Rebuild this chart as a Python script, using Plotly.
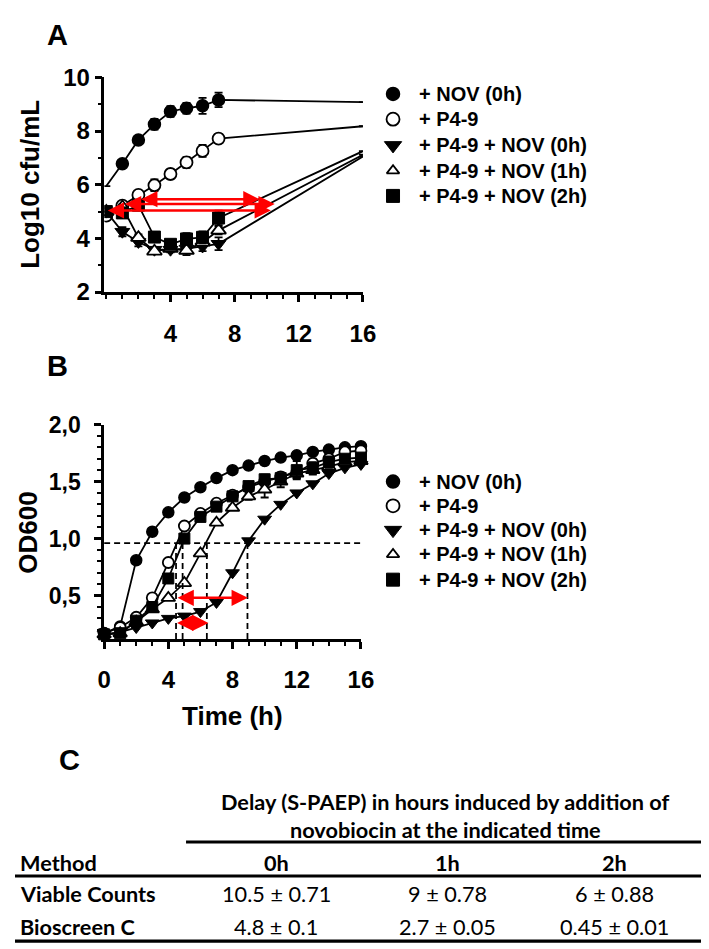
import plotly.graph_objects as go

# ---------------- data ----------------
series_labels = ["+ NOV (0h)", "+ P4-9", "+ P4-9 + NOV (0h)", "+ P4-9 + NOV (1h)", "+ P4-9 + NOV (2h)"]

# Panel A: viable counts (log10 cfu/mL)
hours_a = [0, 1, 2, 3, 4, 5, 6, 7, 16]
a_nov0 = [5.95, 6.78, 7.67, 8.25, 8.73, 8.85, 8.94, 9.16, 9.08]
a_nov0_err = [0, 0.12, 0.1, 0.2, 0.2, 0.2, 0.3, 0.27, 0]
a_p49 = [4.85, 5.22, 5.62, 5.98, 6.40, 6.83, 7.26, 7.72, 8.18]
a_p49_err = [0, 0.1, 0.14, 0.22, 0.17, 0.2, 0.22, 0.17, 0]
a_p49_nov0 = [5.0, 4.25, 3.87, 3.58, 3.58, 3.62, 3.7, 3.8, 7.05]
a_p49_nov0_err = [0, 0.17, 0.17, 0.1, 0.1, 0.15, 0.17, 0.24, 0]
a_p49_nov1 = [5.0, 5.17, 4.03, 3.52, 3.62, 3.55, 3.85, 4.3, 7.12]
a_p49_nov1_err = [0, 0.1, 0.12, 0.1, 0.1, 0.17, 0.17, 0.15, 0]
a_p49_nov2 = [5.0, 4.95, 5.24, 4.05, 3.78, 3.98, 4.04, 4.76, 7.25]
a_p49_nov2_err = [0, 0.12, 0.14, 0.1, 0.1, 0.22, 0.22, 0.27, 0]

# red arrows in panel A (start, end in hours, level in log10 cfu/mL)
a_arrow_start = [2.08, 1.07, 0.0]
a_arrow_end = [9.55, 10.5, 10.26]
a_arrow_level = [5.46, 5.28, 5.04]

# Panel B: OD600 (Bioscreen C)
hours_b = list(range(0, 17))
b_nov0 = [0.17, 0.23, 0.81, 1.06, 1.23, 1.36, 1.45, 1.53, 1.60, 1.64, 1.68, 1.71, 1.73, 1.76, 1.78, 1.80, 1.81]
b_p49 = [0.17, 0.22, 0.31, 0.48, 0.79, 1.11, 1.22, 1.31, 1.38, 1.45, 1.50, 1.54, 1.58, 1.66, 1.70, 1.76, 1.77]
b_p49_err = [0, 0, 0, 0, 0, 0.03, 0.02, 0.02, 0.02, 0.03, 0.04, 0.04, 0.05, 0.04, 0.04, 0.03, 0.02]
b_p49_nov0 = [0.16, 0.18, 0.22, 0.26, 0.30, 0.32, 0.36, 0.44, 0.70, 0.98, 1.17, 1.30, 1.40, 1.48, 1.57, 1.62, 1.65]
b_p49_nov1 = [0.16, 0.17, 0.27, 0.38, 0.48, 0.61, 0.87, 1.14, 1.27, 1.37, 1.43, 1.50, 1.57, 1.60, 1.63, 1.67, 1.68]
b_p49_nov1_err = [0, 0, 0, 0, 0, 0, 0, 0, 0.02, 0.03, 0.07, 0.05, 0.04, 0.04, 0.04, 0.03, 0.02]
b_p49_nov2 = [0.16, 0.17, 0.28, 0.40, 0.65, 1.00, 1.19, 1.28, 1.37, 1.46, 1.52, 1.53, 1.60, 1.62, 1.67, 1.70, 1.71]
b_p49_nov2_err = [0, 0, 0, 0, 0, 0, 0, 0, 0.02, 0.03, 0.04, 0.03, 0.08, 0.05, 0.05, 0.03, 0.02]

# threshold OD and times it is crossed
b_threshold = 0.96
b_cross_times = [4.48, 4.89, 6.4, 8.93]
# red arrows in panel B
b_arrow_start = [4.48, 4.45, 4.48]
b_arrow_end = [8.95, 6.5, 4.89]
b_arrow_level = [0.48, 0.26, 0.17]

a_yticks = [2, 4, 6, 8, 10]
a_xticks = [4, 8, 12, 16]
b_xticks = [0, 4, 8, 12, 16]
b_yticks = [0.5, 1.0, 1.5, 2.0]
b_yticktext = ["0,5", "1,0", "1,5", "2,0"]

# Panel C table
table_header = ["Delay (S-PAEP) in hours induced by addition of", "novobiocin at the indicated time"]
table_columns = ["Method", "0h", "1h", "2h"]
table_rows = [
    ["Viable Counts", "10.5 ± 0.71", "9 ± 0.78", "6 ± 0.88"],
    ["Bioscreen C", "4.8 ± 0.1", "2.7 ± 0.05", "0.45 ± 0.01"],
]

# ---------------- figure ----------------
W, H = 709, 949
def px(p):
    return p / W
def py(p):
    return 1 - p / H

BLACK = "black"
FONT = "Liberation Sans"
TFONT = "Lato"

styles = [
    dict(symbol="circle", color=BLACK, opacity=1, line=dict(color=BLACK, width=1.5)),
    dict(symbol="circle", color="white", opacity=1, line=dict(color=BLACK, width=1.8)),
    dict(symbol="triangle-down", color=BLACK, opacity=1, line=dict(color=BLACK, width=1)),
    dict(symbol="triangle-up", color="white", opacity=1, line=dict(color=BLACK, width=1.8)),
    dict(symbol="square", color=BLACK, opacity=1, line=dict(color=BLACK, width=1)),
]

fig = go.Figure()

def add_series(xs, ys, es, st, size, xa, ya, hide_first=False):
    # error bars underneath
    if es is not None:
        fig.add_trace(go.Scatter(
            x=xs, y=ys, mode="markers", xaxis=xa, yaxis=ya, marker=dict(size=1, color="rgba(0,0,0,0)"),
            error_y=dict(type="data", array=es, visible=True, color=BLACK, thickness=1.8, width=4),
            showlegend=False, cliponaxis=False, hoverinfo="skip"))
    sizes = [size] * len(ys)
    if xa == "x":
        sizes[-1] = 0
        if hide_first:
            sizes[0] = 0
    fig.add_trace(go.Scatter(
        x=xs, y=ys, mode="lines+markers", xaxis=xa, yaxis=ya,
        line=dict(color=BLACK, width=1.8),
        marker=dict(size=sizes, **st),
        showlegend=False, cliponaxis=(xa == "x")))

a_data = [(a_nov0, a_nov0_err), (a_p49, a_p49_err), (a_p49_nov0, a_p49_nov0_err),
          (a_p49_nov1, a_p49_nov1_err), (a_p49_nov2, a_p49_nov2_err)]
for i, (ys, es) in enumerate(a_data):
    sz = 12 if styles[i]["symbol"] in ("circle", "square") else 13
    add_series(hours_a, ys, es, styles[i], sz, "x", "y", hide_first=(i == 0))

b_data = [(b_nov0, None), (b_p49, b_p49_err), (b_p49_nov0, None),
          (b_p49_nov1, b_p49_nov1_err), (b_p49_nov2, b_p49_nov2_err)]
for i, (ys, es) in enumerate(b_data):
    sz = 11 if styles[i]["symbol"] in ("circle", "square") else 12
    add_series(hours_b, ys, es, styles[i], sz, "x2", "y2")

# ---- manual legends on an overlay pixel axis ----
legend_rows_a = [74, 100, 127, 153, 179]
legend_rows_b = [473, 498, 523, 548, 574]
leg_marker_x = 389
leg_text_x = 414
for rows in (legend_rows_a, legend_rows_b):
    for i, lab in enumerate(series_labels):
        st = dict(styles[i])
        sz = {"circle": 13, "triangle-down": 15, "triangle-up": 11, "square": 13}[st["symbol"]]
        fig.add_trace(go.Scatter(x=[leg_marker_x], y=[rows[i]], mode="markers", xaxis="x3", yaxis="y3",
                                 marker=dict(size=sz, **st), showlegend=False, cliponaxis=False,
                                 hoverinfo="skip"))
        fig.add_annotation(text=lab, x=leg_text_x, y=rows[i], xref="x3", yref="y3", showarrow=False,
                           xanchor="left", yanchor="middle",
                           font=dict(family=FONT, size=20, color=BLACK, weight="bold"))

# dashed reference lines in B
fig.add_shape(type="line", xref="x2", yref="y2", x0=0, x1=16, y0=b_threshold, y1=b_threshold,
              line=dict(color=BLACK, width=1.8, dash="6px,4px"))
for t in b_cross_times:
    fig.add_shape(type="line", xref="x2", yref="y2", x0=t, x1=t, y0=0.12, y1=b_threshold,
                  line=dict(color=BLACK, width=1.8, dash="6px,4px"))

def red_arrow(x0, x1, y, xr, yr):
    fig.add_annotation(x=x1, y=y, ax=x0, ay=y, xref=xr, yref=yr, axref=xr, ayref=yr,
                       text="", showarrow=True, arrowhead=2, startarrowhead=2,
                       arrowside="end+start", arrowsize=1.3, startarrowsize=1.3,
                       arrowwidth=2.5, arrowcolor="red", standoff=0, startstandoff=0)

for s, e, lv in zip(a_arrow_start, a_arrow_end, a_arrow_level):
    red_arrow(s, e, lv, "x", "y")
for s, e, lv in zip(b_arrow_start, b_arrow_end, b_arrow_level):
    red_arrow(s, e, lv, "x2", "y2")

axis_common = dict(showline=True, linecolor=BLACK, linewidth=2.5, ticks="outside", tickwidth=2.5,
                   ticklen=7, tickcolor=BLACK, showgrid=False, zeroline=False, mirror=False)

def minor(dt):
    return dict(ticks="outside", ticklen=4, tickwidth=2, dtick=dt, tick0=0, tickcolor=BLACK)

fig.update_layout(
    width=W, height=H, margin=dict(l=0, r=0, t=0, b=0),
    paper_bgcolor="white", plot_bgcolor="rgba(0,0,0,0)",
    font=dict(family=FONT, color=BLACK),
    showlegend=False,
    xaxis=dict(domain=[px(92), px(358)], range=[-0.12, 16], tickvals=a_xticks, anchor="y",
               minor=minor(1), ticklabelstandoff=11,
               tickfont=dict(family=FONT, size=24, color=BLACK, weight="bold"), **axis_common),
    yaxis=dict(domain=[py(278), py(57)], range=[2, 10], tickvals=a_yticks, anchor="x",
               minor=minor(1),
               tickfont=dict(family=FONT, size=24, color=BLACK, weight="bold"), **axis_common),
    xaxis2=dict(domain=[px(91.7), px(356)], range=[0, 16], tickvals=b_xticks, anchor="y2",
                minor=minor(1), ticklabelstandoff=11,
                tickfont=dict(family=FONT, size=24, color=BLACK, weight="bold"), **axis_common),
    yaxis2=dict(domain=[py(635), py(414.3)], range=[0.12, 2.0], tickvals=b_yticks, ticktext=b_yticktext,
                anchor="x2", minor=minor(0.1), ticklabelstandoff=9,
                tickfont=dict(family=FONT, size=23, color=BLACK, weight="bold"), **axis_common),
    xaxis3=dict(domain=[0, 1], range=[0, W], visible=False, anchor="y3", fixedrange=True),
    yaxis3=dict(domain=[0, 1], range=[H, 0], visible=False, anchor="x3", fixedrange=True),
)

# axis titles & panel letters
def label(text, x, y, size, angle=0, family=FONT, weight="bold", xanchor="center"):
    fig.add_annotation(text=text, x=px(x), y=py(y), xref="paper", yref="paper", showarrow=False,
                       textangle=angle, xanchor=xanchor, yanchor="middle",
                       font=dict(family=family, size=size, color=BLACK, weight=weight))

label("A", 44, 13, 29)
label("B", 44, 354, 29)
label("C", 56, 760, 29)
label("Log10 cfu/mL", 16, 167, 26, angle=-90)
label("OD600", 13, 526, 26, angle=-90)
label("Time (h)", 224, 714, 26)

# table C
TS = 21.7
label(table_header[0], 443, 803, TS, family=TFONT)
label(table_header[1], 443, 832, TS, family=TFONT)
col_x = [3, 269, 445, 617]
for j, c in enumerate(table_columns):
    label(c, col_x[j], 866, TS, family=TFONT, xanchor="left" if j == 0 else "center")
row_y = [898, 932]
for r, row in enumerate(table_rows):
    for j, c in enumerate(row):
        label(c, col_x[j], row_y[r], TS, family=TFONT,
              weight="bold" if j == 0 else "normal", xanchor="left" if j == 0 else "center")

for (x0, yy) in [(176, 844), (0, 879), (0, 946)]:
    fig.add_shape(type="line", xref="paper", yref="paper", x0=px(x0), x1=1, y0=py(yy), y1=py(yy),
                  line=dict(color=BLACK, width=3.2))

fig.write_html("out.html")
